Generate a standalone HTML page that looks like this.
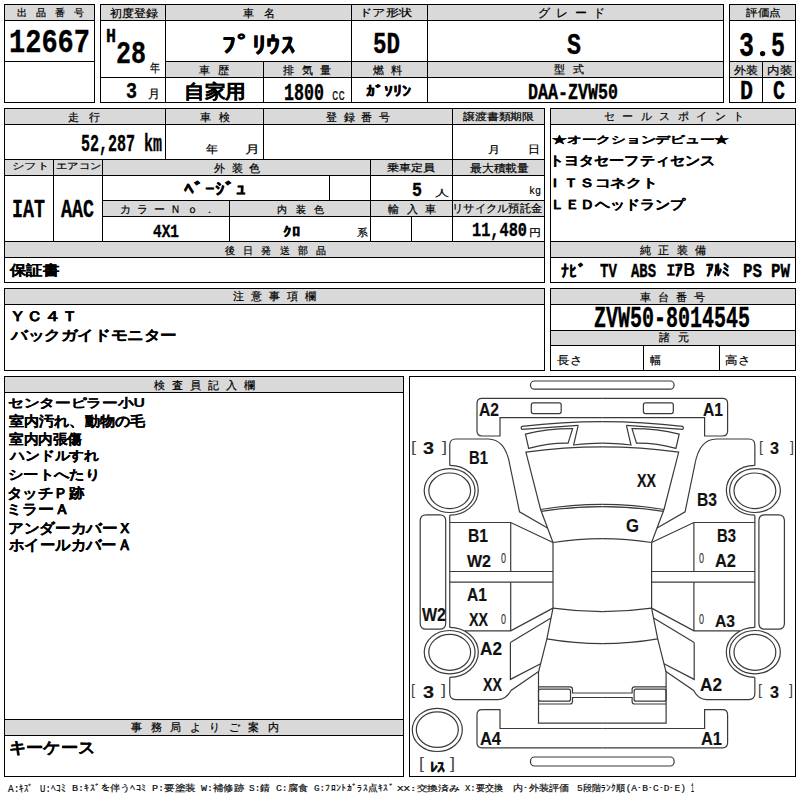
<!DOCTYPE html>
<html lang="ja"><head><meta charset="utf-8"><title>auction sheet</title>
<style>
html,body{margin:0;padding:0;background:#fff;}
body{width:800px;height:800px;position:relative;overflow:hidden;font-family:"Liberation Sans",sans-serif;}
svg{position:absolute;left:0;top:0;}
</style></head><body>
<svg width="800" height="800" viewBox="0 0 800 800" shape-rendering="crispEdges"><rect x="5" y="5" width="89" height="15" fill="#d9d9d9"/><rect x="101" y="5" width="622" height="15" fill="#d9d9d9"/><rect x="166" y="62" width="557" height="15" fill="#d9d9d9"/><rect x="730" y="5" width="65" height="15" fill="#d9d9d9"/><rect x="730" y="62" width="65" height="15" fill="#d9d9d9"/><rect x="5" y="109" width="539" height="15" fill="#d9d9d9"/><rect x="5" y="160" width="539" height="15" fill="#d9d9d9"/><rect x="103" y="201" width="441" height="15" fill="#d9d9d9"/><rect x="5" y="242" width="539" height="15" fill="#d9d9d9"/><rect x="551" y="109" width="244" height="15" fill="#d9d9d9"/><rect x="551" y="242" width="244" height="15" fill="#d9d9d9"/><rect x="5" y="289" width="539" height="15" fill="#d9d9d9"/><rect x="551" y="289" width="244" height="15" fill="#d9d9d9"/><rect x="551" y="331" width="244" height="14" fill="#d9d9d9"/><rect x="5" y="377" width="398" height="15" fill="#d9d9d9"/><rect x="5" y="720" width="398" height="15" fill="#d9d9d9"/><rect x="4" y="4" width="91" height="1" fill="#000"/><rect x="4" y="102" width="91" height="1" fill="#000"/><rect x="4" y="4" width="1" height="99" fill="#000"/><rect x="94" y="4" width="1" height="99" fill="#000"/><rect x="4" y="20" width="91" height="1" fill="#000"/><rect x="4" y="61" width="91" height="1" fill="#000"/><rect x="100" y="4" width="624" height="1" fill="#000"/><rect x="100" y="102" width="624" height="1" fill="#000"/><rect x="100" y="4" width="1" height="99" fill="#000"/><rect x="723" y="4" width="1" height="99" fill="#000"/><rect x="100" y="20" width="624" height="1" fill="#000"/><rect x="165" y="61" width="559" height="1" fill="#000"/><rect x="100" y="77" width="624" height="1" fill="#000"/><rect x="165" y="4" width="1" height="99" fill="#000"/><rect x="351" y="4" width="1" height="99" fill="#000"/><rect x="427" y="4" width="1" height="99" fill="#000"/><rect x="263" y="61" width="1" height="42" fill="#000"/><rect x="729" y="4" width="67" height="1" fill="#000"/><rect x="729" y="102" width="67" height="1" fill="#000"/><rect x="729" y="4" width="1" height="99" fill="#000"/><rect x="795" y="4" width="1" height="99" fill="#000"/><rect x="729" y="20" width="67" height="1" fill="#000"/><rect x="729" y="61" width="67" height="1" fill="#000"/><rect x="729" y="77" width="67" height="1" fill="#000"/><rect x="762" y="61" width="1" height="42" fill="#000"/><rect x="4" y="108" width="541" height="1" fill="#000"/><rect x="4" y="282" width="541" height="1" fill="#000"/><rect x="4" y="108" width="1" height="175" fill="#000"/><rect x="544" y="108" width="1" height="175" fill="#000"/><rect x="4" y="124" width="541" height="1" fill="#000"/><rect x="4" y="159" width="541" height="1" fill="#000"/><rect x="4" y="175" width="541" height="1" fill="#000"/><rect x="102" y="200" width="443" height="1" fill="#000"/><rect x="102" y="216" width="443" height="1" fill="#000"/><rect x="4" y="241" width="541" height="1" fill="#000"/><rect x="4" y="257" width="541" height="1" fill="#000"/><rect x="165" y="108" width="1" height="52" fill="#000"/><rect x="263" y="108" width="1" height="52" fill="#000"/><rect x="452" y="108" width="1" height="134" fill="#000"/><rect x="53" y="159" width="1" height="83" fill="#000"/><rect x="102" y="159" width="1" height="83" fill="#000"/><rect x="370" y="159" width="1" height="83" fill="#000"/><rect x="329" y="175" width="1" height="26" fill="#000"/><rect x="229" y="200" width="1" height="42" fill="#000"/><rect x="411" y="216" width="1" height="26" fill="#000"/><rect x="550" y="108" width="246" height="1" fill="#000"/><rect x="550" y="282" width="246" height="1" fill="#000"/><rect x="550" y="108" width="1" height="175" fill="#000"/><rect x="795" y="108" width="1" height="175" fill="#000"/><rect x="550" y="124" width="246" height="1" fill="#000"/><rect x="550" y="241" width="246" height="1" fill="#000"/><rect x="550" y="257" width="246" height="1" fill="#000"/><rect x="4" y="288" width="541" height="1" fill="#000"/><rect x="4" y="370" width="541" height="1" fill="#000"/><rect x="4" y="288" width="1" height="83" fill="#000"/><rect x="544" y="288" width="1" height="83" fill="#000"/><rect x="4" y="304" width="541" height="1" fill="#000"/><rect x="550" y="288" width="246" height="1" fill="#000"/><rect x="550" y="370" width="246" height="1" fill="#000"/><rect x="550" y="288" width="1" height="83" fill="#000"/><rect x="795" y="288" width="1" height="83" fill="#000"/><rect x="550" y="304" width="246" height="1" fill="#000"/><rect x="550" y="330" width="246" height="1" fill="#000"/><rect x="550" y="345" width="246" height="1" fill="#000"/><rect x="643" y="345" width="1" height="26" fill="#000"/><rect x="719" y="345" width="1" height="26" fill="#000"/><rect x="4" y="376" width="400" height="1" fill="#000"/><rect x="4" y="776" width="400" height="1" fill="#000"/><rect x="4" y="376" width="1" height="401" fill="#000"/><rect x="403" y="376" width="1" height="401" fill="#000"/><rect x="4" y="392" width="400" height="1" fill="#000"/><rect x="4" y="719" width="400" height="1" fill="#000"/><rect x="4" y="735" width="400" height="1" fill="#000"/><rect x="409" y="376" width="387" height="1" fill="#000"/><rect x="409" y="776" width="387" height="1" fill="#000"/><rect x="409" y="376" width="1" height="401" fill="#000"/><rect x="795" y="376" width="1" height="401" fill="#000"/></svg>
<svg width="800" height="800" viewBox="0 0 800 800"><g fill="none" stroke="#3a3a3a" stroke-width="1.2">
<path d="M602.3,398.3 H482 Q477,398.3 477,403.3 V431 Q477,436 482,436 H500 V417.6 H602.3"/><path d="M533.3,402.9 H559.2 Q561.2,402.9 561.2,404.9 V411.6 Q561.2,413.6 559.2,413.6 H533.3 Q531.3,413.6 531.3,411.6 V404.9 Q531.3,402.9 533.3,402.9 Z"/><path d="M578.2,425.4 L522,429.3 Q520.3,427.6 522,426.4 Q562,421.6 602.3,421.6"/><path d="M578.2,425.4 L573.6,445 Q590,443.2 602.3,443.2"/><path d="M525.4,434.1 Q548,428.6 572.6,428.7 L568.1,443.1 Q548.4,442.8 528.7,448.4 Z"/><path d="M602.3,446.8 Q564,446.8 525.9,452.1 L540.6,509.5 L553,542.5"/><path d="M540.6,509.5 Q571.5,504.3 602.3,504.3"/><path d="M541.3,511.3 Q572,506.6 602.3,506.6"/><path d="M553,542.5 Q577.65,538.7 602.3,538.7"/><path d="M553,542.5 V608.1"/><path d="M553,608.1 Q577.65,611.6 602.3,611.6"/><path d="M553,608.1 L546.9,638.8 L540.6,663.8 L538.5,672 V723.2 H602.3"/><path d="M546.9,638.8 Q574.6,643.6 602.3,643.6"/><path d="M538.5,686.8 H570 Q572.5,686.8 572.5,689.3 V693 H602.3"/><path d="M602.3,697.5 H572.5 V701.5 Q572.5,704 570,704 H538.5"/><path d="M540.5,689.2 H568.5 Q570.5,689.2 570.5,691.2 V699.2 Q570.5,701.2 568.5,701.2 H540.5 Q538.5,701.2 538.5,699.2 V691.2 Q538.5,689.2 540.5,689.2 Z"/><path d="M602.3,728.5 H500 V709.7 H482 Q477,709.7 477,714.7 V742.8 Q477,747.8 482,747.8 H602.3"/><path d="M449.75,465.4 V445 Q449.75,439 455.75,439 H488 C500,439 507,449 509.75,464.5 L519.5,511.75 L547.5,528"/><path d="M449.75,465.4 A28.5,24.9 0 0 1 449.75,515.2"/><ellipse cx="449.6" cy="490.6" rx="25.4" ry="21.9"/><ellipse cx="449.7" cy="490.8" rx="20.9" ry="17.8"/><path d="M426.2,514.8 H439.7 Q445.7,514.8 445.7,520.8 V623.2 Q445.7,629.2 439.7,629.2 H426.2 Q420.2,629.2 420.2,623.2 V520.8 Q420.2,514.8 426.2,514.8 Z"/><path d="M449.75,515.2 V627.4"/><path d="M449.75,522.5 H510.7 L553,542.5"/><path d="M510.7,522.5 V571.5"/><path d="M510.7,582.2 V630.9"/><path d="M449.75,571.5 H553"/><path d="M449.75,582.2 H553"/><path d="M464.8,630.9 H510.7 L553,608.1"/><path d="M449.75,627.4 A28.6,24.95 0 0 1 449.75,677.3"/><ellipse cx="449.65" cy="652.15" rx="25.4" ry="21.65"/><ellipse cx="449.7" cy="652.35" rx="20.9" ry="17.95"/><path d="M510.4,642.4 L551,618.1"/><path d="M510.4,642.4 V679.4 L540.6,663.8"/><path d="M539,671.3 L511,690.5 Q506,699.6 498,699.6 H455.75 Q449.75,699.6 449.75,693.6 V677.5"/>
<g transform="translate(1204.6,0) scale(-1,1)"><path d="M602.3,398.3 H482 Q477,398.3 477,403.3 V431 Q477,436 482,436 H500 V417.6 H602.3"/><path d="M533.3,402.9 H559.2 Q561.2,402.9 561.2,404.9 V411.6 Q561.2,413.6 559.2,413.6 H533.3 Q531.3,413.6 531.3,411.6 V404.9 Q531.3,402.9 533.3,402.9 Z"/><path d="M578.2,425.4 L522,429.3 Q520.3,427.6 522,426.4 Q562,421.6 602.3,421.6"/><path d="M578.2,425.4 L573.6,445 Q590,443.2 602.3,443.2"/><path d="M525.4,434.1 Q548,428.6 572.6,428.7 L568.1,443.1 Q548.4,442.8 528.7,448.4 Z"/><path d="M602.3,446.8 Q564,446.8 525.9,452.1 L540.6,509.5 L553,542.5"/><path d="M540.6,509.5 Q571.5,504.3 602.3,504.3"/><path d="M541.3,511.3 Q572,506.6 602.3,506.6"/><path d="M553,542.5 Q577.65,538.7 602.3,538.7"/><path d="M553,542.5 V608.1"/><path d="M553,608.1 Q577.65,611.6 602.3,611.6"/><path d="M553,608.1 L546.9,638.8 L540.6,663.8 L538.5,672 V723.2 H602.3"/><path d="M546.9,638.8 Q574.6,643.6 602.3,643.6"/><path d="M538.5,686.8 H570 Q572.5,686.8 572.5,689.3 V693 H602.3"/><path d="M602.3,697.5 H572.5 V701.5 Q572.5,704 570,704 H538.5"/><path d="M540.5,689.2 H568.5 Q570.5,689.2 570.5,691.2 V699.2 Q570.5,701.2 568.5,701.2 H540.5 Q538.5,701.2 538.5,699.2 V691.2 Q538.5,689.2 540.5,689.2 Z"/><path d="M602.3,728.5 H500 V709.7 H482 Q477,709.7 477,714.7 V742.8 Q477,747.8 482,747.8 H602.3"/><path d="M449.75,465.4 V445 Q449.75,439 455.75,439 H488 C500,439 507,449 509.75,464.5 L519.5,511.75 L547.5,528"/><path d="M449.75,465.4 A28.5,24.9 0 0 1 449.75,515.2"/><ellipse cx="449.6" cy="490.6" rx="25.4" ry="21.9"/><ellipse cx="449.7" cy="490.8" rx="20.9" ry="17.8"/><path d="M426.2,514.8 H439.7 Q445.7,514.8 445.7,520.8 V623.2 Q445.7,629.2 439.7,629.2 H426.2 Q420.2,629.2 420.2,623.2 V520.8 Q420.2,514.8 426.2,514.8 Z"/><path d="M449.75,515.2 V627.4"/><path d="M449.75,522.5 H510.7 L553,542.5"/><path d="M510.7,522.5 V571.5"/><path d="M510.7,582.2 V630.9"/><path d="M449.75,571.5 H553"/><path d="M449.75,582.2 H553"/><path d="M464.8,630.9 H510.7 L553,608.1"/><path d="M449.75,627.4 A28.6,24.95 0 0 1 449.75,677.3"/><ellipse cx="449.65" cy="652.15" rx="25.4" ry="21.65"/><ellipse cx="449.7" cy="652.35" rx="20.9" ry="17.95"/><path d="M510.4,642.4 L551,618.1"/><path d="M510.4,642.4 V679.4 L540.6,663.8"/><path d="M539,671.3 L511,690.5 Q506,699.6 498,699.6 H455.75 Q449.75,699.6 449.75,693.6 V677.5"/></g>
<rect x="530.5" y="381" width="143.6" height="8.2" rx="4"/>
<rect x="530.5" y="757" width="143.6" height="9" rx="4"/>
<ellipse cx="437.3" cy="729.9" rx="25" ry="21.6"/>
<ellipse cx="437.3" cy="729.6" rx="21" ry="17.8"/>
</g><circle cx="762.6" cy="53.6" r="2.65" fill="#000"/></svg>
<svg width="800" height="800" viewBox="0 0 800 800" style="white-space:pre"><text id="t0" x="17.00" y="16.00" font-size="10.23" font-weight="normal" font-family='"Liberation Sans", sans-serif' fill="#000" stroke="#000" stroke-width="0.2" textLength="67.00" lengthAdjust="spacing">出品番号</text>
<text id="t1" x="110.00" y="17.00" font-size="10.84" font-weight="normal" font-family='"Liberation Sans", sans-serif' fill="#000" stroke="#000" stroke-width="0.2" textLength="48.00" lengthAdjust="spacingAndGlyphs">初度登録</text>
<text id="t2" x="243.00" y="17.00" font-size="11.36" font-weight="normal" font-family='"Liberation Sans", sans-serif' fill="#000" stroke="#000" stroke-width="0.2" textLength="32.00" lengthAdjust="spacing">車名</text>
<text id="t3" x="359.00" y="16.00" font-size="10.43" font-weight="normal" font-family='"Liberation Sans", sans-serif' fill="#000" stroke="#000" stroke-width="0.2" textLength="53.00" lengthAdjust="spacingAndGlyphs">ドア形状</text>
<text id="t4" x="538.00" y="17.00" font-size="12.07" font-weight="normal" font-family='"Liberation Sans", sans-serif' fill="#000" stroke="#000" stroke-width="0.2" textLength="67.00" lengthAdjust="spacing">グレード</text>
<text id="t5" x="746.00" y="16.00" font-size="9.76" font-weight="normal" font-family='"Liberation Sans", sans-serif' fill="#000" stroke="#000" stroke-width="0.2" textLength="35.00" lengthAdjust="spacingAndGlyphs">評価点</text>
<text id="t6" x="199.00" y="74.00" font-size="11.36" font-weight="normal" font-family='"Liberation Sans", sans-serif' fill="#000" stroke="#000" stroke-width="0.2" textLength="30.00" lengthAdjust="spacing">車歴</text>
<text id="t7" x="283.00" y="74.00" font-size="11.36" font-weight="normal" font-family='"Liberation Sans", sans-serif' fill="#000" stroke="#000" stroke-width="0.2" textLength="48.00" lengthAdjust="spacing">排気量</text>
<text id="t8" x="373.00" y="74.00" font-size="11.36" font-weight="normal" font-family='"Liberation Sans", sans-serif' fill="#000" stroke="#000" stroke-width="0.2" textLength="29.00" lengthAdjust="spacing">燃料</text>
<text id="t9" x="554.00" y="73.00" font-size="11.36" font-weight="normal" font-family='"Liberation Sans", sans-serif' fill="#000" stroke="#000" stroke-width="0.2" textLength="30.00" lengthAdjust="spacing">型式</text>
<text id="t10" x="734.00" y="74.00" font-size="11.09" font-weight="normal" font-family='"Liberation Sans", sans-serif' fill="#000" stroke="#000" stroke-width="0.2" textLength="24.00" lengthAdjust="spacingAndGlyphs">外装</text>
<text id="t11" x="767.00" y="74.00" font-size="10.84" font-weight="normal" font-family='"Liberation Sans", sans-serif' fill="#000" stroke="#000" stroke-width="0.2" textLength="25.00" lengthAdjust="spacingAndGlyphs">内装</text>
<text id="t12" x="9.00" y="52.00" font-size="33.16" font-weight="bold" font-family='"Liberation Mono", monospace' fill="#000" stroke="#000" stroke-width="0.35" textLength="81.00" lengthAdjust="spacingAndGlyphs">12667</text>
<text id="t13" x="106.00" y="42.00" font-size="19.44" font-weight="bold" font-family='"Liberation Mono", monospace' fill="#000" stroke="#000" stroke-width="0.35" textLength="10.00" lengthAdjust="spacingAndGlyphs">H</text>
<text id="t14" x="116.00" y="63.00" font-size="30.56" font-weight="bold" font-family='"Liberation Mono", monospace' fill="#000" stroke="#000" stroke-width="0.35" textLength="30.00" lengthAdjust="spacingAndGlyphs">28</text>
<text id="t15" x="150.00" y="72.00" font-size="11.86" font-weight="normal" font-family='"Liberation Sans", sans-serif' fill="#000" stroke="#000" stroke-width="0.2" textLength="10.00" lengthAdjust="spacingAndGlyphs">年</text>
<text id="t16" x="126.00" y="98.00" font-size="22.22" font-weight="bold" font-family='"Liberation Mono", monospace' fill="#000" stroke="#000" stroke-width="0.35" textLength="11.00" lengthAdjust="spacingAndGlyphs">3</text>
<text id="t17" x="148.00" y="98.00" font-size="11.86" font-weight="normal" font-family='"Liberation Sans", sans-serif' fill="#000" stroke="#000" stroke-width="0.2" textLength="12.00" lengthAdjust="spacingAndGlyphs">月</text>
<text id="t18" x="222.00" y="53.00" font-size="23.46" font-weight="bold" font-family='"Liberation Sans", sans-serif' fill="#000" stroke="#000" stroke-width="0.15" textLength="74.00" lengthAdjust="spacingAndGlyphs">ﾌﾟﾘｳｽ</text>
<text id="t19" x="373.00" y="53.00" font-size="29.32" font-weight="bold" font-family='"Liberation Mono", monospace' fill="#000" stroke="#000" stroke-width="0.35" textLength="27.00" lengthAdjust="spacingAndGlyphs">5D</text>
<text id="t20" x="567.00" y="54.00" font-size="29.17" font-weight="bold" font-family='"Liberation Mono", monospace' fill="#000" stroke="#000" stroke-width="0.35" textLength="14.00" lengthAdjust="spacingAndGlyphs">S</text>
<text id="t21" x="739.00" y="56.00" font-size="34.54" font-weight="bold" font-family='"Liberation Mono", monospace' fill="#000" stroke="#000" stroke-width="0.35" textLength="15.00" lengthAdjust="spacingAndGlyphs">3</text>
<text id="t22" x="771.00" y="56.00" font-size="34.54" font-weight="bold" font-family='"Liberation Mono", monospace' fill="#000" stroke="#000" stroke-width="0.35" textLength="14.00" lengthAdjust="spacingAndGlyphs">5</text>
<text id="t23" x="184.00" y="98.00" font-size="19.02" font-weight="bold" font-family='"Liberation Sans", sans-serif' fill="#000" stroke="#000" stroke-width="0.15" textLength="62.00" lengthAdjust="spacingAndGlyphs">自家用</text>
<text id="t24" x="284.00" y="100.00" font-size="23.61" font-weight="bold" font-family='"Liberation Mono", monospace' fill="#000" stroke="#000" stroke-width="0.35" textLength="40.00" lengthAdjust="spacingAndGlyphs">1800</text>
<text id="t25" x="332.00" y="100.00" font-size="15.66" font-weight="normal" font-family='"Liberation Mono", monospace' fill="#000" stroke="#000" stroke-width="0.2" textLength="13.00" lengthAdjust="spacingAndGlyphs">cc</text>
<text id="t26" x="366.00" y="96.00" font-size="13.71" font-weight="bold" font-family='"Liberation Sans", sans-serif' fill="#000" stroke="#000" stroke-width="0.15" textLength="45.00" lengthAdjust="spacingAndGlyphs">ｶﾞｿﾘﾝ</text>
<text id="t27" x="528.00" y="99.00" font-size="22.22" font-weight="bold" font-family='"Liberation Mono", monospace' fill="#000" stroke="#000" stroke-width="0.35" textLength="90.00" lengthAdjust="spacingAndGlyphs">DAA-ZVW50</text>
<text id="t28" x="740.00" y="99.00" font-size="27.63" font-weight="bold" font-family='"Liberation Mono", monospace' fill="#000" stroke="#000" stroke-width="0.35" textLength="13.00" lengthAdjust="spacingAndGlyphs">D</text>
<text id="t29" x="773.00" y="99.00" font-size="27.63" font-weight="bold" font-family='"Liberation Mono", monospace' fill="#000" stroke="#000" stroke-width="0.35" textLength="12.00" lengthAdjust="spacingAndGlyphs">C</text>
<text id="t30" x="68.00" y="121.00" font-size="11.36" font-weight="normal" font-family='"Liberation Sans", sans-serif' fill="#000" stroke="#000" stroke-width="0.2" textLength="32.00" lengthAdjust="spacing">走行</text>
<text id="t31" x="200.00" y="121.00" font-size="11.36" font-weight="normal" font-family='"Liberation Sans", sans-serif' fill="#000" stroke="#000" stroke-width="0.2" textLength="30.00" lengthAdjust="spacing">車検</text>
<text id="t32" x="326.00" y="121.00" font-size="11.36" font-weight="normal" font-family='"Liberation Sans", sans-serif' fill="#000" stroke="#000" stroke-width="0.2" textLength="64.00" lengthAdjust="spacing">登録番号</text>
<text id="t33" x="463.00" y="120.00" font-size="10.43" font-weight="normal" font-family='"Liberation Sans", sans-serif' fill="#000" stroke="#000" stroke-width="0.2" textLength="71.00" lengthAdjust="spacingAndGlyphs">譲渡書類期限</text>
<text id="t34" x="12.00" y="169.00" font-size="9.30" font-weight="normal" font-family='"Liberation Sans", sans-serif' fill="#000" stroke="#000" stroke-width="0.2" textLength="37.00" lengthAdjust="spacingAndGlyphs">シフト</text>
<text id="t35" x="56.00" y="169.00" font-size="9.30" font-weight="normal" font-family='"Liberation Sans", sans-serif' fill="#000" stroke="#000" stroke-width="0.2" textLength="45.00" lengthAdjust="spacingAndGlyphs">エアコン</text>
<text id="t36" x="214.00" y="172.00" font-size="11.36" font-weight="normal" font-family='"Liberation Sans", sans-serif' fill="#000" stroke="#000" stroke-width="0.2" textLength="46.00" lengthAdjust="spacing">外装色</text>
<text id="t37" x="387.00" y="171.00" font-size="9.76" font-weight="normal" font-family='"Liberation Sans", sans-serif' fill="#000" stroke="#000" stroke-width="0.2" textLength="48.00" lengthAdjust="spacingAndGlyphs">乗車定員</text>
<text id="t38" x="470.00" y="172.00" font-size="11.36" font-weight="normal" font-family='"Liberation Sans", sans-serif' fill="#000" stroke="#000" stroke-width="0.2" textLength="59.00" lengthAdjust="spacingAndGlyphs">最大積載量</text>
<text id="t39" x="120.00" y="213.00" font-size="10.70" font-weight="normal" font-family='"Liberation Sans", sans-serif' fill="#000" stroke="#000" stroke-width="0.2" textLength="95.00" lengthAdjust="spacing">カラーＮｏ．</text>
<text id="t40" x="277.00" y="213.00" font-size="10.23" font-weight="normal" font-family='"Liberation Sans", sans-serif' fill="#000" stroke="#000" stroke-width="0.2" textLength="47.00" lengthAdjust="spacing">内装色</text>
<text id="t41" x="388.00" y="213.00" font-size="11.36" font-weight="normal" font-family='"Liberation Sans", sans-serif' fill="#000" stroke="#000" stroke-width="0.2" textLength="48.00" lengthAdjust="spacing">輸入車</text>
<text id="t42" x="452.00" y="212.00" font-size="11.42" font-weight="normal" font-family='"Liberation Sans", sans-serif' fill="#000" stroke="#000" stroke-width="0.2" textLength="90.00" lengthAdjust="spacingAndGlyphs">リサイクル預託金</text>
<text id="t43" x="225.00" y="254.00" font-size="10.23" font-weight="normal" font-family='"Liberation Sans", sans-serif' fill="#000" stroke="#000" stroke-width="0.2" textLength="101.00" lengthAdjust="spacing">後日発送部品</text>
<text id="t44" x="604.00" y="120.00" font-size="11.21" font-weight="normal" font-family='"Liberation Sans", sans-serif' fill="#000" stroke="#000" stroke-width="0.2" textLength="140.00" lengthAdjust="spacing">セールスポイント</text>
<text id="t45" x="640.00" y="254.00" font-size="11.38" font-weight="normal" font-family='"Liberation Sans", sans-serif' fill="#000" stroke="#000" stroke-width="0.2" textLength="66.00" lengthAdjust="spacing">純正装備</text>
<text id="t46" x="81.00" y="151.00" font-size="24.05" font-weight="bold" font-family='"Liberation Mono", monospace' fill="#000" stroke="#000" stroke-width="0.35" textLength="81.00" lengthAdjust="spacingAndGlyphs">52,287 km</text>
<text id="t47" x="206.00" y="153.00" font-size="11.09" font-weight="normal" font-family='"Liberation Sans", sans-serif' fill="#000" stroke="#000" stroke-width="0.2" textLength="12.00" lengthAdjust="spacingAndGlyphs">年</text>
<text id="t48" x="245.00" y="153.00" font-size="11.09" font-weight="normal" font-family='"Liberation Sans", sans-serif' fill="#000" stroke="#000" stroke-width="0.2" textLength="15.00" lengthAdjust="spacingAndGlyphs">月</text>
<text id="t49" x="488.00" y="153.00" font-size="9.84" font-weight="normal" font-family='"Liberation Sans", sans-serif' fill="#000" stroke="#000" stroke-width="0.2" textLength="12.00" lengthAdjust="spacingAndGlyphs">月</text>
<text id="t50" x="528.00" y="153.00" font-size="10.83" font-weight="normal" font-family='"Liberation Sans", sans-serif' fill="#000" stroke="#000" stroke-width="0.2" textLength="12.00" lengthAdjust="spacingAndGlyphs">日</text>
<text id="t51" x="12.00" y="217.00" font-size="25.00" font-weight="bold" font-family='"Liberation Mono", monospace' fill="#000" stroke="#000" stroke-width="0.35" textLength="33.00" lengthAdjust="spacingAndGlyphs">IAT</text>
<text id="t52" x="61.00" y="217.00" font-size="25.00" font-weight="bold" font-family='"Liberation Mono", monospace' fill="#000" stroke="#000" stroke-width="0.35" textLength="33.00" lengthAdjust="spacingAndGlyphs">AAC</text>
<text id="t53" x="184.00" y="195.00" font-size="16.85" font-weight="bold" font-family='"Liberation Sans", sans-serif' fill="#000" stroke="#000" stroke-width="0.15" textLength="62.00" lengthAdjust="spacingAndGlyphs">ﾍﾞｰｼﾞｭ</text>
<text id="t54" x="412.00" y="196.00" font-size="19.44" font-weight="bold" font-family='"Liberation Mono", monospace' fill="#000" stroke="#000" stroke-width="0.35" textLength="10.00" lengthAdjust="spacingAndGlyphs">5</text>
<text id="t55" x="435.00" y="196.00" font-size="8.69" font-weight="normal" font-family='"Liberation Sans", sans-serif' fill="#000" stroke="#000" stroke-width="0.2" textLength="14.00" lengthAdjust="spacingAndGlyphs">人</text>
<text id="t56" x="529.00" y="194.00" font-size="11.70" font-weight="normal" font-family='"Liberation Mono", monospace' fill="#000" stroke="#000" stroke-width="0.2" textLength="12.00" lengthAdjust="spacingAndGlyphs">kg</text>
<text id="t57" x="153.00" y="237.00" font-size="18.06" font-weight="bold" font-family='"Liberation Mono", monospace' fill="#000" stroke="#000" stroke-width="0.35" textLength="26.00" lengthAdjust="spacingAndGlyphs">4X1</text>
<text id="t58" x="283.00" y="236.00" font-size="12.75" font-weight="bold" font-family='"Liberation Sans", sans-serif' fill="#000" stroke="#000" stroke-width="0.15" textLength="18.00" lengthAdjust="spacingAndGlyphs">ｸﾛ</text>
<text id="t59" x="357.00" y="236.00" font-size="9.94" font-weight="normal" font-family='"Liberation Sans", sans-serif' fill="#000" stroke="#000" stroke-width="0.2" textLength="11.00" lengthAdjust="spacingAndGlyphs">系</text>
<text id="t60" x="472.00" y="236.00" font-size="19.77" font-weight="bold" font-family='"Liberation Mono", monospace' fill="#000" stroke="#000" stroke-width="0.35" textLength="55.00" lengthAdjust="spacingAndGlyphs">11,480</text>
<text id="t61" x="529.00" y="236.00" font-size="9.81" font-weight="normal" font-family='"Liberation Sans", sans-serif' fill="#000" stroke="#000" stroke-width="0.2" textLength="12.00" lengthAdjust="spacingAndGlyphs">円</text>
<text id="t62" x="10.00" y="275.00" font-size="14.18" font-weight="bold" font-family='"Liberation Sans", sans-serif' fill="#000" stroke="#000" stroke-width="0.15" textLength="49.00" lengthAdjust="spacingAndGlyphs">保証書</text>
<text id="t63" x="552.00" y="143.00" font-size="10.43" font-weight="bold" font-family='"Liberation Sans", sans-serif' fill="#000" stroke="#000" stroke-width="0.15" textLength="177.00" lengthAdjust="spacingAndGlyphs">★オークションデビュー★</text>
<text id="t64" x="549.00" y="165.00" font-size="13.32" font-weight="bold" font-family='"Liberation Sans", sans-serif' fill="#000" stroke="#000" stroke-width="0.15" textLength="166.00" lengthAdjust="spacingAndGlyphs">トヨタセーフティセンス</text>
<text id="t65" x="547.00" y="187.00" font-size="12.23" font-weight="bold" font-family='"Liberation Sans", sans-serif' fill="#000" stroke="#000" stroke-width="0.15" textLength="111.00" lengthAdjust="spacingAndGlyphs">ＩＴＳコネクト</text>
<text id="t66" x="550.00" y="209.00" font-size="13.22" font-weight="bold" font-family='"Liberation Sans", sans-serif' fill="#000" stroke="#000" stroke-width="0.15" textLength="135.00" lengthAdjust="spacingAndGlyphs">ＬＥＤヘッドランプ</text>
<text id="t67" x="561.00" y="277.00" font-size="16.84" font-weight="bold" font-family='"Liberation Sans", sans-serif' fill="#000" stroke="#000" stroke-width="0.15" textLength="25.00" lengthAdjust="spacingAndGlyphs">ﾅﾋﾞ</text>
<text id="t68" x="600.00" y="277.00" font-size="20.11" font-weight="bold" font-family='"Liberation Mono", monospace' fill="#000" stroke="#000" stroke-width="0.35" textLength="17.00" lengthAdjust="spacingAndGlyphs">TV</text>
<text id="t69" x="631.00" y="277.00" font-size="20.11" font-weight="bold" font-family='"Liberation Mono", monospace' fill="#000" stroke="#000" stroke-width="0.35" textLength="25.00" lengthAdjust="spacingAndGlyphs">ABS</text>
<text id="t70" x="667.00" y="276.00" font-size="17.44" font-weight="bold" font-family='"Liberation Sans", sans-serif' fill="#000" stroke="#000" stroke-width="0.15" textLength="28.00" lengthAdjust="spacingAndGlyphs">ｴｱB</text>
<text id="t71" x="706.00" y="276.00" font-size="17.44" font-weight="bold" font-family='"Liberation Sans", sans-serif' fill="#000" stroke="#000" stroke-width="0.15" textLength="24.00" lengthAdjust="spacingAndGlyphs">ｱﾙﾐ</text>
<text id="t72" x="743.00" y="277.00" font-size="20.11" font-weight="bold" font-family='"Liberation Mono", monospace' fill="#000" stroke="#000" stroke-width="0.35" textLength="19.00" lengthAdjust="spacingAndGlyphs">PS</text>
<text id="t73" x="771.00" y="277.00" font-size="20.11" font-weight="bold" font-family='"Liberation Mono", monospace' fill="#000" stroke="#000" stroke-width="0.35" textLength="19.00" lengthAdjust="spacingAndGlyphs">PW</text>
<text id="t74" x="233.00" y="300.00" font-size="10.79" font-weight="normal" font-family='"Liberation Sans", sans-serif' fill="#000" stroke="#000" stroke-width="0.2" textLength="83.00" lengthAdjust="spacing">注意事項欄</text>
<text id="t75" x="9.00" y="321.00" font-size="13.95" font-weight="bold" font-family='"Liberation Sans", sans-serif' fill="#000" stroke="#000" stroke-width="0.15" textLength="69.00" lengthAdjust="spacingAndGlyphs">ＹＣ４Ｔ</text>
<text id="t76" x="11.00" y="340.00" font-size="13.84" font-weight="bold" font-family='"Liberation Sans", sans-serif' fill="#000" stroke="#000" stroke-width="0.15" textLength="166.00" lengthAdjust="spacingAndGlyphs">バックガイドモニター</text>
<text id="t77" x="640.00" y="301.00" font-size="11.36" font-weight="normal" font-family='"Liberation Sans", sans-serif' fill="#000" stroke="#000" stroke-width="0.2" textLength="65.00" lengthAdjust="spacing">車台番号</text>
<text id="t78" x="594.00" y="327.00" font-size="29.32" font-weight="bold" font-family='"Liberation Mono", monospace' fill="#000" stroke="#000" stroke-width="0.35" textLength="156.00" lengthAdjust="spacingAndGlyphs">ZVW50-8014545</text>
<text id="t79" x="659.00" y="341.00" font-size="11.36" font-weight="normal" font-family='"Liberation Sans", sans-serif' fill="#000" stroke="#000" stroke-width="0.2" textLength="30.00" lengthAdjust="spacing">諸元</text>
<text id="t80" x="557.00" y="364.00" font-size="11.42" font-weight="normal" font-family='"Liberation Sans", sans-serif' fill="#000" stroke="#000" stroke-width="0.2" textLength="25.00" lengthAdjust="spacingAndGlyphs">長さ</text>
<text id="t81" x="650.00" y="364.00" font-size="10.91" font-weight="normal" font-family='"Liberation Sans", sans-serif' fill="#000" stroke="#000" stroke-width="0.2" textLength="11.00" lengthAdjust="spacingAndGlyphs">幅</text>
<text id="t82" x="725.00" y="364.00" font-size="10.79" font-weight="normal" font-family='"Liberation Sans", sans-serif' fill="#000" stroke="#000" stroke-width="0.2" textLength="25.00" lengthAdjust="spacingAndGlyphs">高さ</text>
<text id="t83" x="154.00" y="389.00" font-size="10.84" font-weight="normal" font-family='"Liberation Sans", sans-serif' fill="#000" stroke="#000" stroke-width="0.2" textLength="101.00" lengthAdjust="spacing">検査員記入欄</text>
<text id="t84" x="8.00" y="407.00" font-size="12.10" font-weight="bold" font-family='"Liberation Sans", sans-serif' fill="#000" stroke="#000" stroke-width="0.15" textLength="137.00" lengthAdjust="spacingAndGlyphs">センターピラー小U</text>
<text id="t85" x="9.00" y="426.00" font-size="14.34" font-weight="bold" font-family='"Liberation Sans", sans-serif' fill="#000" stroke="#000" stroke-width="0.15" textLength="136.00" lengthAdjust="spacingAndGlyphs">室内汚れ、動物の毛</text>
<text id="t86" x="9.00" y="444.00" font-size="14.34" font-weight="bold" font-family='"Liberation Sans", sans-serif' fill="#000" stroke="#000" stroke-width="0.15" textLength="73.00" lengthAdjust="spacingAndGlyphs">室内内張傷</text>
<text id="t87" x="10.00" y="460.00" font-size="13.05" font-weight="bold" font-family='"Liberation Sans", sans-serif' fill="#000" stroke="#000" stroke-width="0.15" textLength="89.00" lengthAdjust="spacingAndGlyphs">ハンドルすれ</text>
<text id="t88" x="8.00" y="479.00" font-size="13.39" font-weight="bold" font-family='"Liberation Sans", sans-serif' fill="#000" stroke="#000" stroke-width="0.15" textLength="92.00" lengthAdjust="spacingAndGlyphs">シートへたり</text>
<text id="t89" x="7.00" y="498.00" font-size="14.34" font-weight="bold" font-family='"Liberation Sans", sans-serif' fill="#000" stroke="#000" stroke-width="0.15" textLength="77.00" lengthAdjust="spacingAndGlyphs">タッチＰ跡</text>
<text id="t90" x="6.00" y="514.00" font-size="14.19" font-weight="bold" font-family='"Liberation Sans", sans-serif' fill="#000" stroke="#000" stroke-width="0.15" textLength="64.00" lengthAdjust="spacingAndGlyphs">ミラーＡ</text>
<text id="t91" x="8.00" y="533.00" font-size="14.31" font-weight="bold" font-family='"Liberation Sans", sans-serif' fill="#000" stroke="#000" stroke-width="0.15" textLength="125.00" lengthAdjust="spacingAndGlyphs">アンダーカバーＸ</text>
<text id="t92" x="9.00" y="550.00" font-size="14.54" font-weight="bold" font-family='"Liberation Sans", sans-serif' fill="#000" stroke="#000" stroke-width="0.15" textLength="123.00" lengthAdjust="spacingAndGlyphs">ホイールカバーＡ</text>
<text id="t93" x="131.00" y="731.00" font-size="10.79" font-weight="normal" font-family='"Liberation Sans", sans-serif' fill="#000" stroke="#000" stroke-width="0.2" textLength="148.00" lengthAdjust="spacing">事務局よりご案内</text>
<text id="t94" x="9.00" y="753.00" font-size="16.01" font-weight="bold" font-family='"Liberation Sans", sans-serif' fill="#000" stroke="#000" stroke-width="0.15" textLength="86.00" lengthAdjust="spacingAndGlyphs">キーケース</text>
<text id="t95" x="8.00" y="792.00" font-size="10.47" font-weight="normal" font-family='"Liberation Mono", monospace' fill="#111" stroke="#111" stroke-width="0.2" textLength="25.00" lengthAdjust="spacingAndGlyphs">A:ｷｽﾞ</text>
<text id="t96" x="40.00" y="792.00" font-size="10.63" font-weight="normal" font-family='"Liberation Mono", monospace' fill="#111" stroke="#111" stroke-width="0.2" textLength="26.00" lengthAdjust="spacingAndGlyphs">U:ﾍｺﾐ</text>
<text id="t97" x="72.00" y="791.00" font-size="9.06" font-weight="normal" font-family='"Liberation Mono", monospace' fill="#111" stroke="#111" stroke-width="0.2" textLength="75.00" lengthAdjust="spacingAndGlyphs">B:ｷｽﾞを伴うﾍｺﾐ</text>
<text id="t98" x="152.00" y="791.00" font-size="8.69" font-weight="normal" font-family='"Liberation Mono", monospace' fill="#111" stroke="#111" stroke-width="0.2" textLength="44.00" lengthAdjust="spacingAndGlyphs">P:要塗装</text>
<text id="t99" x="201.00" y="791.00" font-size="8.69" font-weight="normal" font-family='"Liberation Mono", monospace' fill="#111" stroke="#111" stroke-width="0.2" textLength="43.00" lengthAdjust="spacingAndGlyphs">W:補修跡</text>
<text id="t100" x="249.00" y="791.00" font-size="8.69" font-weight="normal" font-family='"Liberation Mono", monospace' fill="#111" stroke="#111" stroke-width="0.2" textLength="21.00" lengthAdjust="spacingAndGlyphs">S:錆</text>
<text id="t101" x="276.00" y="791.00" font-size="8.69" font-weight="normal" font-family='"Liberation Mono", monospace' fill="#111" stroke="#111" stroke-width="0.2" textLength="32.00" lengthAdjust="spacingAndGlyphs">C:腐食</text>
<text id="t102" x="314.00" y="791.00" font-size="8.69" font-weight="normal" font-family='"Liberation Mono", monospace' fill="#111" stroke="#111" stroke-width="0.2" textLength="80.00" lengthAdjust="spacingAndGlyphs">G:ﾌﾛﾝﾄｶﾞﾗｽ点ｷｽﾞ</text>
<text id="t103" x="397.00" y="791.00" font-size="8.01" font-weight="normal" font-family='"Liberation Mono", monospace' fill="#111" stroke="#111" stroke-width="0.2" textLength="63.00" lengthAdjust="spacingAndGlyphs">XX:交換済み</text>
<text id="t104" x="465.00" y="791.00" font-size="8.79" font-weight="normal" font-family='"Liberation Mono", monospace' fill="#111" stroke="#111" stroke-width="0.2" textLength="38.00" lengthAdjust="spacingAndGlyphs">X:要交換</text>
<text id="t105" x="513.00" y="791.00" font-size="8.69" font-weight="normal" font-family='"Liberation Mono", monospace' fill="#111" stroke="#111" stroke-width="0.2" textLength="56.00" lengthAdjust="spacingAndGlyphs">内･外装評価</text>
<text id="t106" x="577.00" y="791.00" font-size="9.30" font-weight="normal" font-family='"Liberation Mono", monospace' fill="#111" stroke="#111" stroke-width="0.2" textLength="109.00" lengthAdjust="spacingAndGlyphs">5段階ﾗﾝｸ順(A･B･C･D･E)</text>
<text id="t107" x="691.00" y="792.00" font-size="12.69" font-weight="normal" font-family='"Liberation Mono", monospace' fill="#111" stroke="#111" stroke-width="0.2" textLength="3.00" lengthAdjust="spacingAndGlyphs">1</text>
<text id="t108" x="479.00" y="416.00" font-size="18.33" font-weight="bold" font-family='"Liberation Sans", sans-serif' fill="#111" stroke="#111" stroke-width="0.15" textLength="20.00" lengthAdjust="spacingAndGlyphs">A2</text>
<text id="t109" x="703.00" y="416.00" font-size="18.33" font-weight="bold" font-family='"Liberation Sans", sans-serif' fill="#111" stroke="#111" stroke-width="0.15" textLength="20.00" lengthAdjust="spacingAndGlyphs">A1</text>
<text id="t110" x="469.00" y="464.00" font-size="18.29" font-weight="bold" font-family='"Liberation Sans", sans-serif' fill="#111" stroke="#111" stroke-width="0.15" textLength="19.00" lengthAdjust="spacingAndGlyphs">B1</text>
<text id="t111" x="637.00" y="487.00" font-size="18.29" font-weight="bold" font-family='"Liberation Sans", sans-serif' fill="#111" stroke="#111" stroke-width="0.15" textLength="19.00" lengthAdjust="spacingAndGlyphs">XX</text>
<text id="t112" x="697.00" y="506.00" font-size="18.29" font-weight="bold" font-family='"Liberation Sans", sans-serif' fill="#111" stroke="#111" stroke-width="0.15" textLength="20.00" lengthAdjust="spacingAndGlyphs">B3</text>
<text id="t113" x="626.00" y="532.00" font-size="18.29" font-weight="bold" font-family='"Liberation Sans", sans-serif' fill="#111" stroke="#111" stroke-width="0.15" textLength="13.00" lengthAdjust="spacingAndGlyphs">G</text>
<text id="t114" x="468.00" y="542.00" font-size="18.37" font-weight="bold" font-family='"Liberation Sans", sans-serif' fill="#111" stroke="#111" stroke-width="0.15" textLength="20.00" lengthAdjust="spacingAndGlyphs">B1</text>
<text id="t115" x="467.00" y="567.00" font-size="17.16" font-weight="bold" font-family='"Liberation Sans", sans-serif' fill="#111" stroke="#111" stroke-width="0.15" textLength="24.00" lengthAdjust="spacingAndGlyphs">W2</text>
<text id="t116" x="717.00" y="542.00" font-size="18.29" font-weight="bold" font-family='"Liberation Sans", sans-serif' fill="#111" stroke="#111" stroke-width="0.15" textLength="19.00" lengthAdjust="spacingAndGlyphs">B3</text>
<text id="t117" x="715.00" y="567.00" font-size="18.29" font-weight="bold" font-family='"Liberation Sans", sans-serif' fill="#111" stroke="#111" stroke-width="0.15" textLength="21.00" lengthAdjust="spacingAndGlyphs">A2</text>
<text id="t118" x="467.00" y="601.00" font-size="18.29" font-weight="bold" font-family='"Liberation Sans", sans-serif' fill="#111" stroke="#111" stroke-width="0.15" textLength="20.00" lengthAdjust="spacingAndGlyphs">A1</text>
<text id="t119" x="469.00" y="626.00" font-size="18.29" font-weight="bold" font-family='"Liberation Sans", sans-serif' fill="#111" stroke="#111" stroke-width="0.15" textLength="19.00" lengthAdjust="spacingAndGlyphs">XX</text>
<text id="t120" x="422.00" y="621.00" font-size="18.29" font-weight="bold" font-family='"Liberation Sans", sans-serif' fill="#111" stroke="#111" stroke-width="0.15" textLength="24.00" lengthAdjust="spacingAndGlyphs">W2</text>
<text id="t121" x="480.00" y="655.00" font-size="18.29" font-weight="bold" font-family='"Liberation Sans", sans-serif' fill="#111" stroke="#111" stroke-width="0.15" textLength="22.00" lengthAdjust="spacingAndGlyphs">A2</text>
<text id="t122" x="483.00" y="691.00" font-size="18.29" font-weight="bold" font-family='"Liberation Sans", sans-serif' fill="#111" stroke="#111" stroke-width="0.15" textLength="19.00" lengthAdjust="spacingAndGlyphs">XX</text>
<text id="t123" x="480.00" y="745.00" font-size="18.29" font-weight="bold" font-family='"Liberation Sans", sans-serif' fill="#111" stroke="#111" stroke-width="0.15" textLength="21.00" lengthAdjust="spacingAndGlyphs">A4</text>
<text id="t124" x="715.00" y="627.00" font-size="17.16" font-weight="bold" font-family='"Liberation Sans", sans-serif' fill="#111" stroke="#111" stroke-width="0.15" textLength="20.00" lengthAdjust="spacingAndGlyphs">A3</text>
<text id="t125" x="700.00" y="691.00" font-size="18.29" font-weight="bold" font-family='"Liberation Sans", sans-serif' fill="#111" stroke="#111" stroke-width="0.15" textLength="22.00" lengthAdjust="spacingAndGlyphs">A2</text>
<text id="t126" x="701.00" y="745.00" font-size="18.29" font-weight="bold" font-family='"Liberation Sans", sans-serif' fill="#111" stroke="#111" stroke-width="0.15" textLength="21.00" lengthAdjust="spacingAndGlyphs">A1</text>
<text id="t127" x="501.00" y="563.00" font-size="14.94" font-weight="normal" font-family='"Liberation Sans", sans-serif' fill="#333" stroke="#333" stroke-width="0.2" textLength="5.00" lengthAdjust="spacingAndGlyphs">0</text>
<text id="t128" x="501.00" y="624.00" font-size="14.92" font-weight="normal" font-family='"Liberation Sans", sans-serif' fill="#333" stroke="#333" stroke-width="0.2" textLength="5.00" lengthAdjust="spacingAndGlyphs">0</text>
<text id="t129" x="699.00" y="563.00" font-size="14.94" font-weight="normal" font-family='"Liberation Sans", sans-serif' fill="#333" stroke="#333" stroke-width="0.2" textLength="5.00" lengthAdjust="spacingAndGlyphs">0</text>
<text id="t130" x="699.00" y="624.00" font-size="14.92" font-weight="normal" font-family='"Liberation Sans", sans-serif' fill="#333" stroke="#333" stroke-width="0.2" textLength="5.00" lengthAdjust="spacingAndGlyphs">0</text>
<text id="t131" x="411.00" y="452.00" font-size="14.74" font-weight="normal" font-family='"Liberation Sans", sans-serif' fill="#444" textLength="5.00" lengthAdjust="spacingAndGlyphs">[</text>
<text id="t132" x="423.00" y="454.00" font-size="16.95" font-weight="bold" font-family='"Liberation Sans", sans-serif' fill="#111" stroke="#111" stroke-width="0.15" textLength="11.00" lengthAdjust="spacingAndGlyphs">3</text>
<text id="t133" x="442.00" y="452.00" font-size="14.74" font-weight="normal" font-family='"Liberation Sans", sans-serif' fill="#444" textLength="5.00" lengthAdjust="spacingAndGlyphs">]</text>
<text id="t134" x="759.00" y="452.00" font-size="14.74" font-weight="normal" font-family='"Liberation Sans", sans-serif' fill="#444" textLength="4.00" lengthAdjust="spacingAndGlyphs">[</text>
<text id="t135" x="770.00" y="454.00" font-size="16.95" font-weight="bold" font-family='"Liberation Sans", sans-serif' fill="#111" stroke="#111" stroke-width="0.15" textLength="9.00" lengthAdjust="spacingAndGlyphs">3</text>
<text id="t136" x="790.00" y="452.00" font-size="14.74" font-weight="normal" font-family='"Liberation Sans", sans-serif' fill="#444" textLength="4.00" lengthAdjust="spacingAndGlyphs">]</text>
<text id="t137" x="411.00" y="695.00" font-size="14.74" font-weight="normal" font-family='"Liberation Sans", sans-serif' fill="#444" textLength="4.00" lengthAdjust="spacingAndGlyphs">[</text>
<text id="t138" x="423.00" y="698.00" font-size="16.95" font-weight="bold" font-family='"Liberation Sans", sans-serif' fill="#111" stroke="#111" stroke-width="0.15" textLength="11.00" lengthAdjust="spacingAndGlyphs">3</text>
<text id="t139" x="441.00" y="695.00" font-size="14.74" font-weight="normal" font-family='"Liberation Sans", sans-serif' fill="#444" textLength="5.00" lengthAdjust="spacingAndGlyphs">]</text>
<text id="t140" x="758.00" y="695.00" font-size="14.74" font-weight="normal" font-family='"Liberation Sans", sans-serif' fill="#444" textLength="4.00" lengthAdjust="spacingAndGlyphs">[</text>
<text id="t141" x="770.00" y="698.00" font-size="16.95" font-weight="bold" font-family='"Liberation Sans", sans-serif' fill="#111" stroke="#111" stroke-width="0.15" textLength="9.00" lengthAdjust="spacingAndGlyphs">3</text>
<text id="t142" x="789.00" y="695.00" font-size="14.74" font-weight="normal" font-family='"Liberation Sans", sans-serif' fill="#444" textLength="4.00" lengthAdjust="spacingAndGlyphs">]</text>
<text id="t143" x="419.00" y="769.00" font-size="17.14" font-weight="normal" font-family='"Liberation Sans", sans-serif' fill="#444" textLength="5.00" lengthAdjust="spacingAndGlyphs">[</text>
<text id="t144" x="429.50" y="771.60" font-size="14.20" font-weight="bold" font-family='"Liberation Sans", sans-serif' fill="#111" stroke="#111" stroke-width="0.15" textLength="15.90" lengthAdjust="spacingAndGlyphs">ﾚｽ</text>
<text id="t145" x="450.00" y="769.00" font-size="17.14" font-weight="normal" font-family='"Liberation Sans", sans-serif' fill="#444" textLength="5.00" lengthAdjust="spacingAndGlyphs">]</text></svg>
</body></html>
